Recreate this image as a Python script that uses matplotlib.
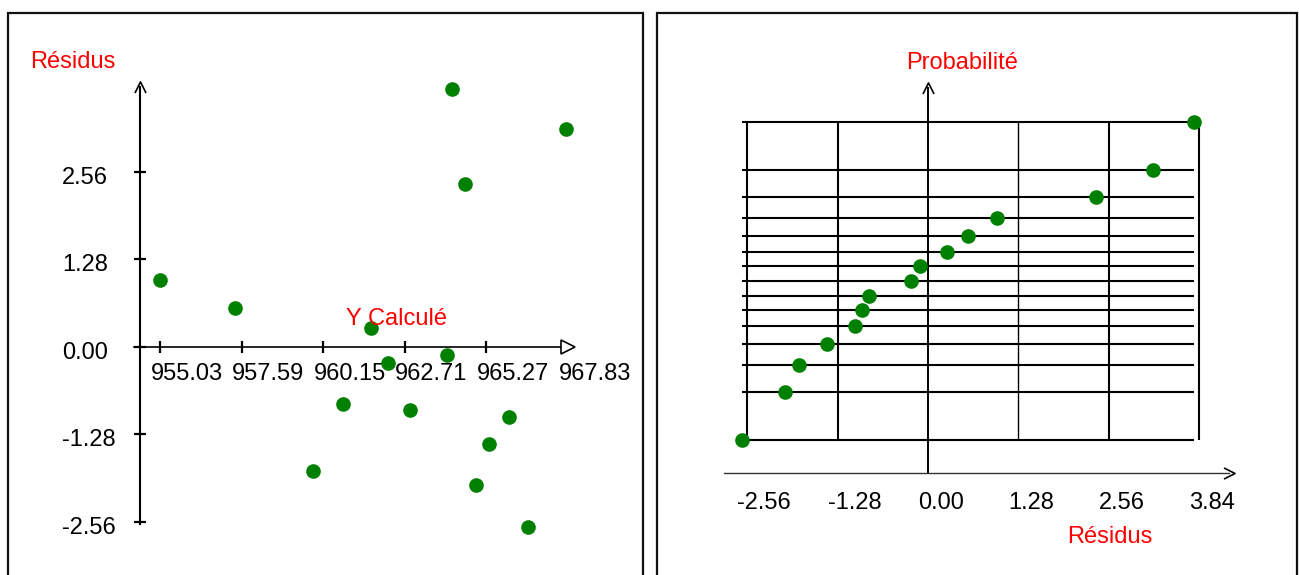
import matplotlib.pyplot as plt
from matplotlib.patches import Rectangle
from statistics import NormalDist

# valeurs
y_calcule = [955.03, 957.38, 959.83, 960.77, 961.65, 962.18, 962.87, 964.03,
             964.19, 964.60, 964.94, 965.35, 965.98, 966.57, 967.77]
residus = [0.98, 0.56, -1.82, -0.84, 0.27, -0.24, -0.93, -0.12,
           3.77, 2.38, -2.03, -1.43, -1.03, -2.64, 3.18]
probabilites = [0.033, 0.1, 0.167, 0.233, 0.3, 0.367, 0.433, 0.5,
                0.567, 0.633, 0.7, 0.767, 0.833, 0.9, 0.967]
x_ticks_g = [955.03, 957.59, 960.15, 962.71, 965.27, 967.83]
y_ticks_g = [2.56, 1.28, 0.00, -1.28, -2.56]
x_ticks_d = [-2.56, -1.28, 0.00, 1.28, 2.56, 3.84]

W, H = 1299, 575
plt.rcParams['font.family'] = ['Liberation Sans', 'DejaVu Sans']
fig = plt.figure(figsize=(W / 100, H / 100), dpi=100)
fig.patch.set_facecolor('white')

VERT = '#008000'
ROUGE = '#ff0000'
FS = 17


def make_ax(box, x0, px0, kx, y0, py0, ky):
    l, t, r, b = box
    ax = fig.add_axes([l / W, 1 - b / H, (r - l) / W, (b - t) / H])
    ax.set_xlim(x0 + (l - px0) / kx, x0 + (r - px0) / kx)
    ax.set_ylim(y0 - (b - py0) / ky, y0 - (t - py0) / ky)
    ax.axis('off')
    return ax


def ftext(x, y, s, **kw):
    fig.text(x / W, 1 - y / H, s, va='baseline', ha='left', fontsize=FS, **kw)


chevron_up = [(-1, -1), (0, 1), (1, -1)]
chevron_right = [(-1, 1), (1, 0), (-1, -1)]

# cadres
for l, r in [(8, 643), (657, 1297)]:
    fig.add_artist(Rectangle((l / W, -0.05), (r - l) / W, 1.05 - 13 / H,
                             transform=fig.transFigure, fill=False,
                             lw=1.6, ec='#111111'))

# ---------- panneau gauche : résidus vs Y calculé ----------
kx_g = 81.6 / 2.56
ky_g = 87.5 / 1.28
ax1 = make_ax((10, 15, 641, 575), 955.03, 160, kx_g, 0, 346.7, ky_g)
yax = 955.03 + (140 - 160) / kx_g
ax1.plot([yax, yax], [-2.60, 3.80], color='k', lw=1.5)
ax1.plot(yax, 3.80, marker=chevron_up, ms=8, mfc='none', mec='k', mew=1.2)
ax1.plot([955.03 + (134 - 160) / kx_g, x_ticks_g[-1]], [0, 0], color='k', lw=1.2)
ax1.plot(x_ticks_g[-1], 0, marker='>', ms=10, mfc='white', mec='k', mew=1.2)
ax1.plot(x_ticks_g[:-1], [0] * 5, ls='none', marker='|', ms=9, mew=1.6, color='k')
ax1.plot([yax] * len(y_ticks_g), y_ticks_g, ls='none', marker='_', ms=9, mew=1.6, color='k')
for v in x_ticks_g:
    ax1.annotate(f'{v:.2f}', (v, 0), xytext=(-9.5, -33), textcoords='offset pixels',
                 ha='left', va='baseline', fontsize=FS)
for v in y_ticks_g:
    ax1.annotate(f'{v:.2f}', (yax, v), xytext=(62 - 140, -12), textcoords='offset pixels',
                 ha='left', va='baseline', fontsize=FS)
ax1.plot(y_calcule, residus, ls='none', marker='o', ms=9.5, color=VERT, zorder=5)
ftext(30, 68, 'Résidus', color=ROUGE)
ftext(346, 325, 'Y Calculé', color=ROUGE)

# ---------- panneau droit : droite de Henry ----------
kx_d = 90.4 / 1.28
ky_d = 86.5
ax2 = make_ax((659, 15, 1295, 575), 0, 928, kx_d, 0, 281, ky_d)
zs = [NormalDist().inv_cdf(p) for p in probabilites]
res_tries = sorted(residus)
zb = (281 - 472.7) / ky_d
ax2.hlines(zs, min(res_tries), max(res_tries), color='k', lw=1.5)
ax2.hlines(zs[-1], max(res_tries), x_ticks_d[-1], color='k', lw=1.5)
for v in x_ticks_d:
    if v == 0:
        continue
    ax2.vlines(v, zs[0], zs[-1], color='k', lw=1.5 if v != 1.28 else 1.0)
ax2.plot([0, 0], [zb, (281 - 88) / ky_d], color='k', lw=1.4)
ax2.plot(0, (281 - 88) / ky_d, marker=chevron_up, ms=8, mfc='none', mec='k', mew=1.2)
xa0 = (724 - 928) / kx_d
xa1 = (1229 - 928) / kx_d
ax2.plot([xa0, xa1], [zb, zb], color='#333333', lw=1.0)
ax2.plot(xa1, zb, marker=chevron_right, ms=8, mfc='none', mec='k', mew=1.2)
for v in x_ticks_d:
    ax2.annotate(f'{v:.2f}', (v, zb), xytext=(-10, -36), textcoords='offset pixels',
                 ha='left', va='baseline', fontsize=FS)
ax2.plot(res_tries, zs, ls='none', marker='o', ms=9.5, color=VERT, zorder=5)
ftext(906, 69, 'Probabilité', color=ROUGE)
ftext(1067, 543, 'Résidus', color=ROUGE)

fig.savefig('out.png', dpi=100, facecolor='white')
